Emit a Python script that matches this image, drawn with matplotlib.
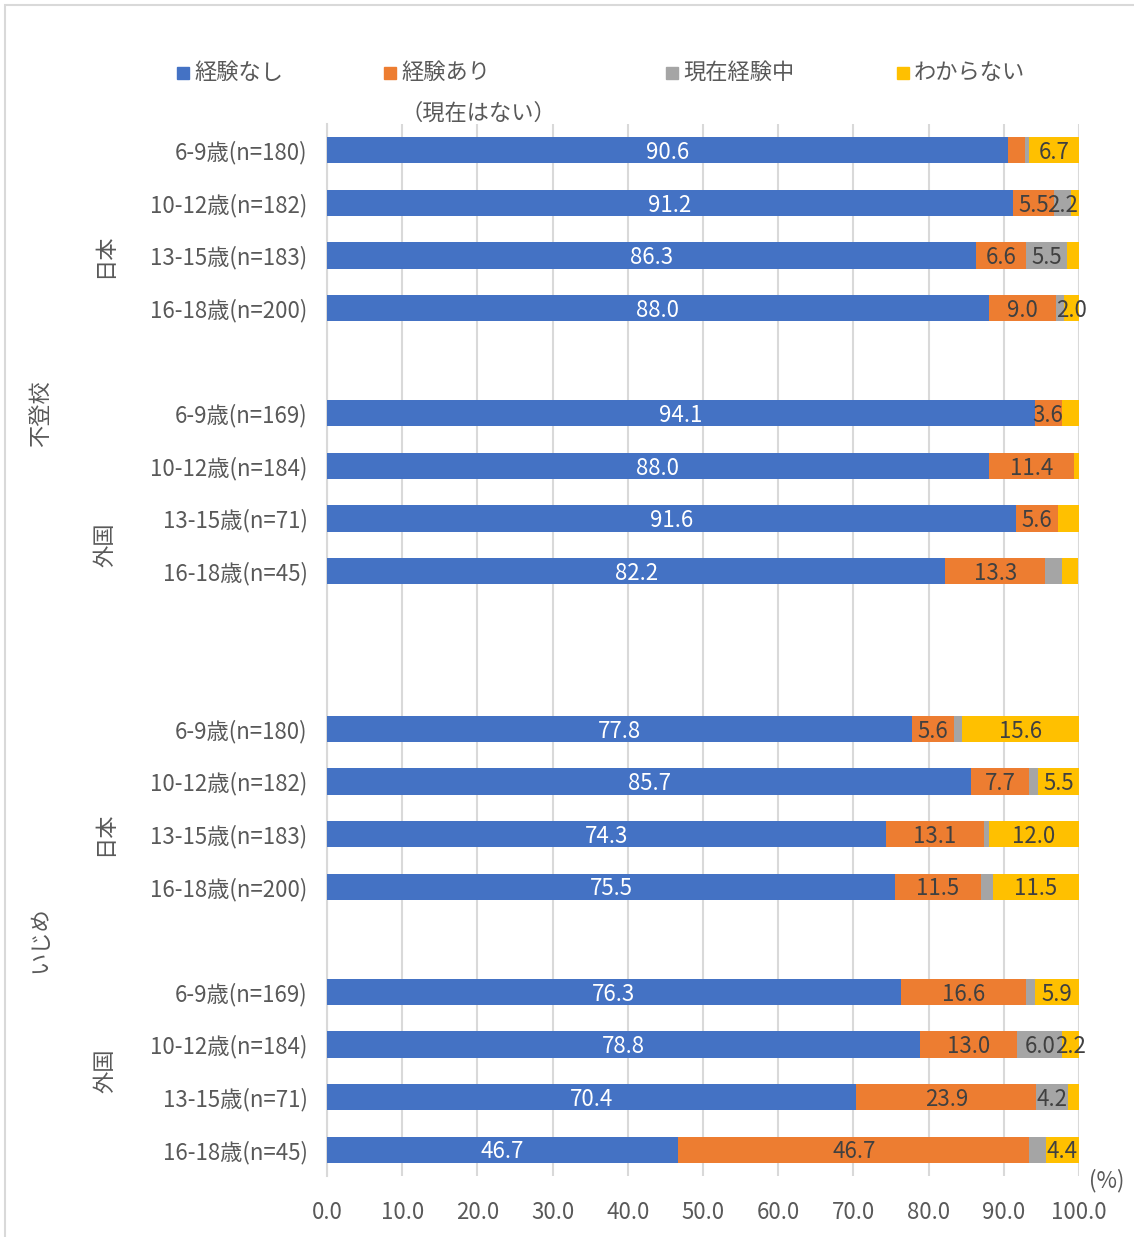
import matplotlib
matplotlib.use("Agg")
import matplotlib.pyplot as plt
from matplotlib.patches import Rectangle
from matplotlib.transforms import blended_transform_factory

plt.rcParams['font.family'] = ['Noto Sans CJK JP', 'DejaVu Sans']

# category labels (top to bottom)
categories = ['6-9歳(n=180)', '10-12歳(n=182)', '13-15歳(n=183)', '16-18歳(n=200)',
              '6-9歳(n=169)', '10-12歳(n=184)', '13-15歳(n=71)', '16-18歳(n=45)',
              '6-9歳(n=180)', '10-12歳(n=182)', '13-15歳(n=183)', '16-18歳(n=200)',
              '6-9歳(n=169)', '10-12歳(n=184)', '13-15歳(n=71)', '16-18歳(n=45)']

# series values (%)
no_exp = [90.6, 91.2, 86.3, 88.0, 94.1, 88.0, 91.6, 82.2,
          77.8, 85.7, 74.3, 75.5, 76.3, 78.8, 70.4, 46.7]
past_exp = [2.2, 5.5, 6.6, 9.0, 3.6, 11.4, 5.6, 13.3,
            5.6, 7.7, 13.1, 11.5, 16.6, 13.0, 23.9, 46.7]
now_exp = [0.5, 2.2, 5.5, 1.0, 0.0, 0.0, 0.0, 2.2,
           1.0, 1.1, 0.6, 1.5, 1.2, 6.0, 4.2, 2.2]
unknown = [6.7, 1.1, 1.6, 2.0, 2.3, 0.6, 2.8, 2.2,
           15.6, 5.5, 12.0, 11.5, 5.9, 2.2, 1.5, 4.4]

series_names = ['経験なし', '経験あり\n（現在はない）', '現在経験中', 'わからない']
colors = ['#4472C4', '#ED7D31', '#A5A5A5', '#FFC000']

# labels that are not shown in the original (row, series)
hidden = [(0, 1), (4, 3), (6, 3), (7, 2), (7, 3), (15, 2)]

# slot positions with blank rows between groups
slots = [0, 1, 2, 3, 5, 6, 7, 8, 11, 12, 13, 14, 16, 17, 18, 19]

# groups: (label, first slot, last slot)
inner_groups = [('日本', 0, 4), ('外国', 5, 10), ('日本', 11, 15), ('外国', 16, 19)]
outer_groups = [('不登校', 0, 10), ('いじめ', 11, 19)]

text_col = '#595959'
fs = 16

W, H = 1134, 1237
fig = plt.figure(figsize=(W / 100, H / 100), dpi=100)
ax = fig.add_axes([327 / W, 1 - 1176 / H, (1079 - 327) / W, (1176 - 124) / H])

all_series = [no_exp, past_exp, now_exp, unknown]
left = [0.0] * len(slots)
for s, vals in enumerate(all_series):
    ax.barh(slots, vals, left=left, height=0.5, color=colors[s], zorder=3)
    for i, v in enumerate(vals):
        if v >= 2.0 and (i, s) not in hidden:
            ax.text(left[i] + v / 2, slots[i] + 0.04, f'{v:.1f}', ha='center', va='center',
                    fontsize=fs, color='white' if s == 0 else '#404040', zorder=4)
    left = [l + v for l, v in zip(left, vals)]

ax.set_xlim(0, 100)
ax.set_ylim(19.5, -0.5)
ax.set_xticks(range(0, 101, 10))
ax.set_xticklabels([f'{x:.1f}' for x in range(0, 101, 10)])
ax.set_yticks(slots)
ax.set_yticklabels(categories)
ax.tick_params(axis='both', length=0, labelsize=fs, colors=text_col)
ax.tick_params(axis='y', pad=14)
ax.tick_params(axis='x', pad=18)
ax.grid(axis='x', color='#D9D9D9', linewidth=1.5, zorder=0)
for sp in ['top', 'right', 'bottom']:
    ax.spines[sp].set_visible(False)
ax.spines['left'].set_color('#D9D9D9')
ax.spines['left'].set_linewidth(1.5)

# group labels
tr = blended_transform_factory(fig.transFigure, ax.transData)
for name, a, b in inner_groups:
    ax.text(105 / W, (a + b) / 2, name, transform=tr, rotation=90, ha='center',
            va='center', fontsize=fs, color=text_col)
for name, a, b in outer_groups:
    ax.text(40 / W, (a + b) / 2, name, transform=tr, rotation=90, ha='center',
            va='center', fontsize=fs, color=text_col)

fig.text(1107 / W, 1 - 1181 / H, '(%)', ha='center', va='center', fontsize=fs, color=text_col)

# legend
leg_x = [177, 384, 666, 897]
for x, name, c in zip(leg_x, series_names, colors):
    fig.patches.append(Rectangle((x / W, 1 - 79 / H), 12 / W, 12 / H,
                                 transform=fig.transFigure, color=c))
    fig.text((x + 17) / W, 1 - 61 / H, name, ha='left', va='top', fontsize=fs,
             color=text_col, linespacing=2.0)

# chart border
fig.patches.append(Rectangle((5 / W, -0.01), 1.1, 1 - 5 / H + 0.01, transform=fig.transFigure,
                             fill=False, edgecolor='#D9D9D9', linewidth=1.5))

fig.savefig('out.png', dpi=100)
